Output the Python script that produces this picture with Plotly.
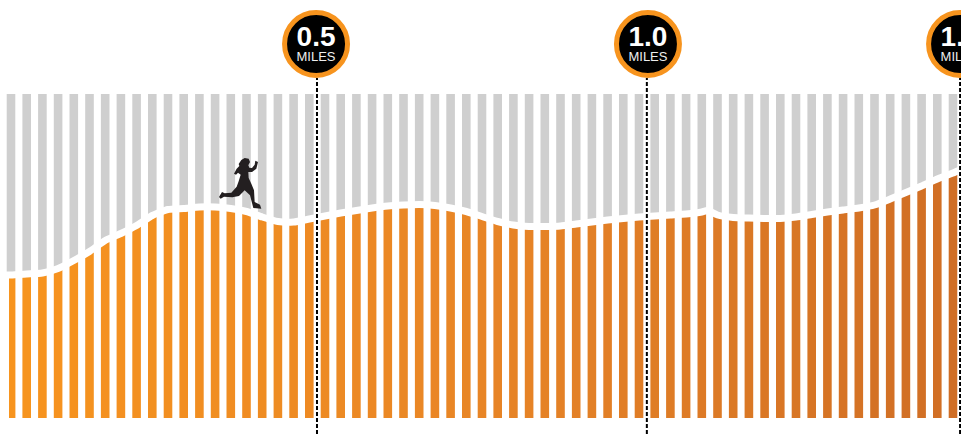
import plotly.graph_objects as go

# Orange bar tops (profile height above the baseline)
profile = [143, 144, 145, 149.5, 157.5, 166.5, 177.5, 184.5, 192.5, 202.5, 208.5, 209.5, 211, 211, 209.5, 206.5,
           201, 196.5, 196, 199, 202, 205, 207.5, 210, 212, 213, 213.5, 212.5, 210, 206.5, 201.5, 196.5,
           193, 191.5, 191.5, 192, 194, 196, 198, 199.5, 201, 202, 203, 204, 206, 203, 200.5, 200, 199.5, 199.5,
           201, 203.5, 206, 208, 210, 213, 219, 225.5, 232, 239, 245]
gray_top = 324
line_pos = [19.49, 40.5, 60.45]
badge_pos = [19.43, 40.57, 60.45]
mile_labels = ["0.5", "1.0", "1.5"]
unit_label = "MILES"
peak = (44.35, 207.5)
runner = [(15, 135), (24, 120), (32, 124), (52, 122), (68, 104), (74, 88), (80, 68), (72, 62), (66, 68), (60, 65),
          (68, 50), (76, 42), (74, 36), (82, 24), (92, 18), (104, 20), (108, 30), (103, 40), (106, 47), (114, 48),
          (122, 38), (124, 26), (132, 30), (127, 50), (114, 60), (103, 60), (104, 78), (112, 95), (120, 115),
          (122, 150), (138, 158), (142, 170), (118, 168), (108, 130), (92, 115), (75, 132), (55, 136), (30, 134),
          (20, 140)]

W, H = 961, 434
STEP = 15.7
X0 = 11
BASE_PX = 418
n = len(profile)
idx = list(range(n))


def mix(t):
    stops = [(0.0, (247, 148, 30)), (0.5, (232, 133, 38)), (1.0, (208, 110, 37))]
    for (a, ca), (b, cb) in zip(stops, stops[1:]):
        if t <= b:
            f = (t - a) / (b - a)
            return "rgb(%d,%d,%d)" % tuple(round(p + (q - p) * f) for p, q in zip(ca, cb))
    return "rgb(208,110,37)"


colors = [mix(i / (n - 1)) for i in idx]
bw = 8.6 / STEP
widths = [6.4 / STEP] + [bw] * (n - 1)
offsets = [-2 / STEP] + [-bw / 2] * (n - 1)

line_x = [-0.5] + idx[:45] + [peak[0]] + idx[45:] + [60.6]
line_y = [profile[0]] + profile[:45] + [peak[1]] + profile[45:] + [profile[-1] + 4]

fig = go.Figure()
fig.add_bar(x=idx, y=[gray_top - v for v in profile], base=profile, width=bw,
            marker=dict(color="#cfcfcf", line_width=0), hoverinfo="skip")
fig.add_bar(x=idx, y=profile, width=widths, offset=offsets,
            marker=dict(color=colors, line_width=0), hoverinfo="skip")
fig.add_scatter(x=line_x, y=line_y, mode="lines",
                line=dict(color="white", width=7, shape="spline", smoothing=0.5), hoverinfo="skip")
for m in line_pos:
    fig.add_scatter(x=[m, m], y=[-16, 340], mode="lines",
                    line=dict(color="black", width=2, dash="4px,2px"), hoverinfo="skip")
fig.add_scatter(x=badge_pos, y=[BASE_PX - 44] * 3, mode="markers", cliponaxis=False,
                marker=dict(size=63, color="black", line=dict(color="#f7941e", width=5)), hoverinfo="skip")
fig.add_scatter(x=badge_pos, y=[BASE_PX - 39] * 3, mode="text", text=mile_labels, cliponaxis=False,
                textfont=dict(family="Liberation Sans", size=28, color="white", weight="bold"),
                hoverinfo="skip")
fig.add_scatter(x=badge_pos, y=[BASE_PX - 58] * 3, mode="text", text=[unit_label] * 3, cliponaxis=False,
                textfont=dict(family="Liberation Sans", size=13, color="#eeeeee"), hoverinfo="skip")

pts = [((214 + a / 3) / W, 1 - (152 + b / 3) / H) for a, b in runner]
path = "M " + " L ".join("%.5f %.5f" % p for p in pts) + " Z"
shapes = [dict(type="path", xref="paper", yref="paper", path=path, fillcolor="#231f20", line_width=0, layer="above")]

fig.update_layout(width=W, height=H, margin=dict(l=0, r=0, t=0, b=0), showlegend=False,
                  paper_bgcolor="white", plot_bgcolor="white", barmode="overlay", shapes=shapes,
                  xaxis=dict(range=[-X0 / STEP, (W - X0) / STEP], visible=False, fixedrange=True),
                  yaxis=dict(range=[BASE_PX - H, BASE_PX], visible=False, fixedrange=True))
fig.write_html("out.html", config=dict(staticPlot=True, displayModeBar=False),
               post_script="document.body.style.margin='0';document.documentElement.style.overflow='hidden';")
